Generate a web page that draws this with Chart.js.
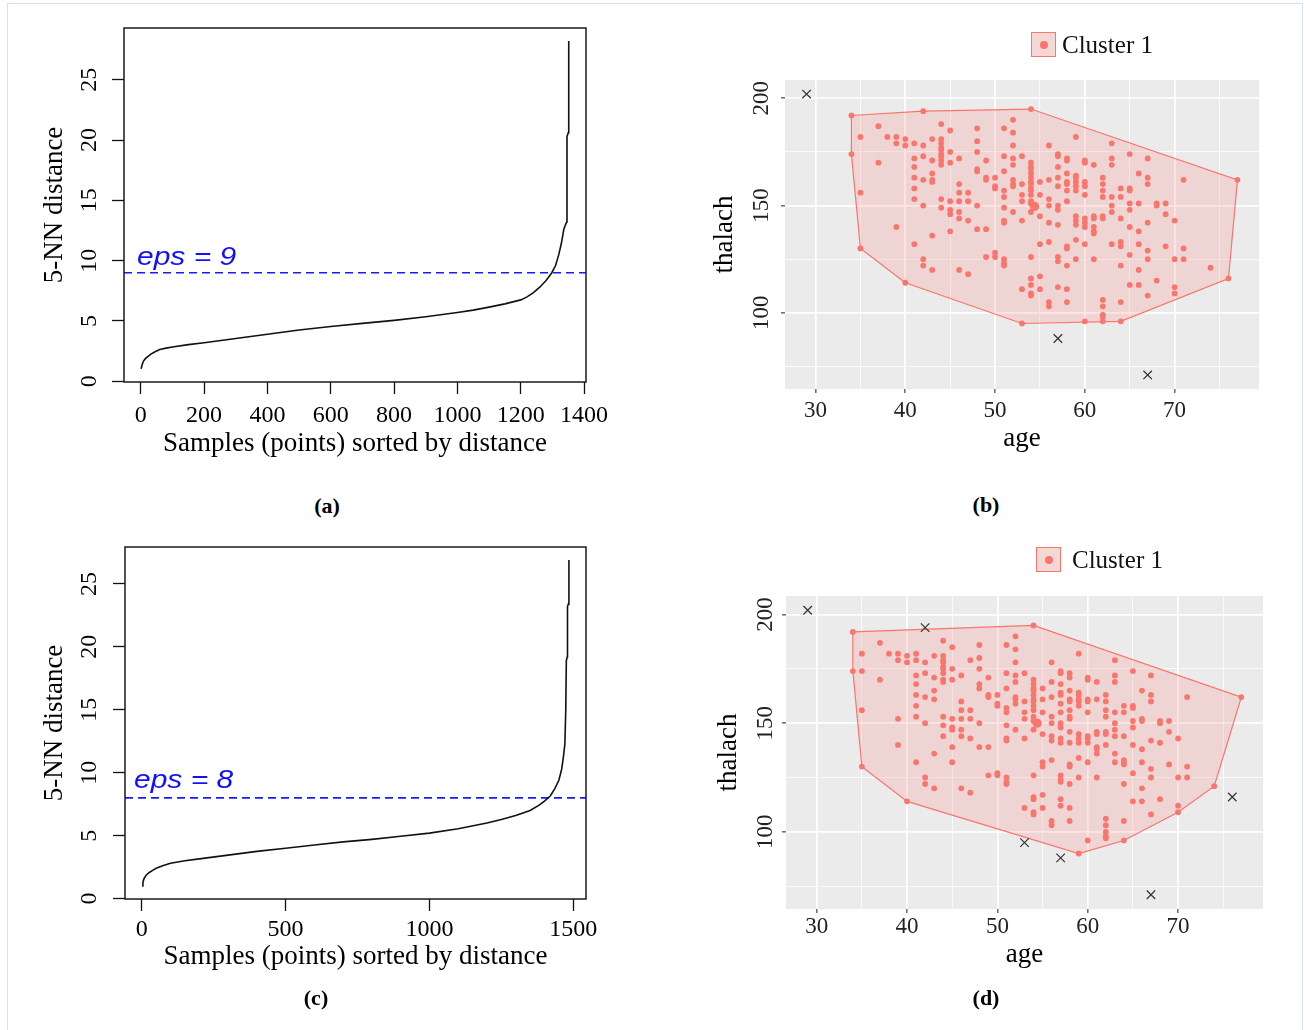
<!DOCTYPE html>
<html>
<head>
<meta charset="utf-8">
<script src="https://cdn.jsdelivr.net/npm/chart.js@4.4.1/dist/chart.umd.min.js"></script>
<style>
html,body{margin:0;padding:0;background:#fff;}
#fig{position:relative;width:1304px;height:1030px;overflow:hidden;background:#fff;}
.frame{position:absolute;left:7px;top:3px;width:1296px;height:1100px;border:1px solid #dbe0e8;box-sizing:border-box;}
canvas{position:absolute;}
.cap{position:absolute;font:bold 22px "Liberation Serif";line-height:1;transform:translate(-50%,-50%);color:#000;white-space:nowrap;}
.leg{position:absolute;display:flex;align-items:center;height:25px;font:25px "Liberation Serif";line-height:25px;color:#111;white-space:nowrap;}
.key{width:25px;height:25px;box-sizing:border-box;border:1px solid #F8766D;background:#F3D8D6;position:relative;flex:none;}
.key::after{content:"";position:absolute;left:50%;top:50%;width:8px;height:8px;margin:-4px 0 0 -4px;border-radius:50%;background:#F8766D;}
</style>
</head>
<body>
<div id="fig">
  <div class="frame"></div>
  <canvas id="ca" width="650" height="470" style="left:0;top:0"></canvas>
  <canvas id="cb" width="654" height="470" style="left:650px;top:0"></canvas>
  <canvas id="cc" width="650" height="470" style="left:0;top:520px"></canvas>
  <canvas id="cd" width="654" height="470" style="left:650px;top:520px"></canvas>
  <div class="leg" style="left:1031px;top:32px"><div class="key"></div><span style="margin-left:6px">Cluster 1</span></div>
  <div class="leg" style="left:1036px;top:547px"><div class="key"></div><span style="margin-left:11px">Cluster 1</span></div>
  <div class="cap" style="left:327px;top:506px">(a)</div>
  <div class="cap" style="left:986px;top:505px">(b)</div>
  <div class="cap" style="left:316px;top:998px">(c)</div>
  <div class="cap" style="left:986px;top:998px">(d)</div>
</div>
<script>
// ================= DATA =================
// (a) sorted 5-NN distances, eps = 9
const knnXA = [1, 4, 8, 15, 23, 32, 45, 60, 80, 100, 150, 200, 300, 400, 500, 600, 700, 800, 900, 1000, 1050, 1100, 1150, 1200, 1220, 1240, 1260, 1280, 1298, 1310, 1320, 1328, 1336, 1340, 1345, 1346, 1350, 1351, 1352];
const knnYA = [1.03, 1.35, 1.66, 1.9, 2.07, 2.25, 2.45, 2.63, 2.75, 2.85, 3.04, 3.2, 3.55, 3.9, 4.25, 4.55, 4.8, 5.05, 5.35, 5.7, 5.9, 6.15, 6.42, 6.75, 7.0, 7.35, 7.8, 8.35, 9.0, 9.6, 10.5, 11.4, 12.6, 12.9, 13.2, 20.3, 20.6, 26.5, 28.2];
const epsA = 9;
const xTicksA = [0, 200, 400, 600, 800, 1000, 1200, 1400];

// (c) sorted 5-NN distances, eps = 8
const knnXC = [1, 4, 8, 15, 25, 35, 50, 75, 100, 150, 200, 300, 400, 500, 600, 700, 800, 900, 1000, 1100, 1200, 1250, 1300, 1350, 1380, 1400, 1420, 1435, 1450, 1460, 1466, 1471, 1474, 1476, 1479, 1480, 1483, 1485];
const knnYC = [1.0, 1.3, 1.6, 1.85, 2.05, 2.2, 2.4, 2.62, 2.8, 3.0, 3.15, 3.45, 3.75, 4.0, 4.25, 4.5, 4.7, 4.95, 5.2, 5.55, 6.0, 6.28, 6.6, 7.0, 7.4, 7.75, 8.15, 8.7, 9.4, 10.3, 11.3, 12.3, 15, 18.9, 19.2, 23.2, 23.4, 26.9];
const epsC = 8;
const xTicksC = [0, 500, 1000, 1500];
const yTicksKnn = [0, 5, 10, 15, 20, 25];

// (b) cluster 1 members: [age, [thalach values]]
const clusterB = [
  [34, [192, 174]], [35, [182, 156, 130]], [37, [187, 170]], [38, [182]],
  [39, [182, 179, 140]], [40, [181, 178, 114]], [41, [179, 172, 168, 163, 158, 153, 132]],
  [42, [194, 178, 173, 162, 150, 125, 122]], [43, [181, 171, 165, 162, 161, 136, 120]],
  [44, [188, 181, 179, 177, 176, 174, 173, 171, 169, 153, 149]], [45, [185, 175, 170, 152, 148, 146, 138]],
  [46, [172, 160, 156, 152, 147, 144, 120]], [47, [156, 152, 143, 118]], [48, [186, 180, 175, 167, 166, 150, 139]],
  [49, [171, 163, 162, 139, 126]], [50, [163, 159, 158, 128, 126]],
  [51, [186, 173, 166, 157, 154, 149, 143, 142, 125, 123, 122]], [52, [190, 184, 178, 172, 169, 162, 160, 159, 147]],
  [53, [173, 160, 155, 152, 143, 111, 95]],
  [54, [195, 170, 168, 167, 165, 163, 161, 160, 158, 157, 155, 152, 151, 147, 126, 116, 113, 109, 108]],
  [55, [161, 155, 145, 132, 117, 111]], [56, [178, 162, 153, 150, 142, 133, 105, 103]],
  [57, [174, 173, 168, 163, 159, 150, 148, 141, 126, 124, 112]],
  [58, [172, 171, 165, 161, 160, 157, 152, 131, 130, 122, 111, 105]],
  [59, [182, 164, 163, 161, 159, 157, 145, 143, 141, 134, 125]],
  [60, [171, 170, 161, 159, 155, 144, 142, 140, 132, 96]], [61, [169, 145, 144, 140, 138, 137, 125]],
  [62, [163, 160, 157, 154, 145, 144, 106, 103, 99, 98, 96]], [63, [179, 172, 169, 154, 150, 147, 132]],
  [64, [158, 154, 144, 133, 131, 122, 105, 96]], [65, [174, 158, 157, 151, 148, 140, 127, 113]],
  [66, [165, 151, 138, 132, 120, 113]], [67, [172, 163, 160, 142, 129, 125, 108]],
  [68, [151, 150, 115]], [69, [151, 146, 131]], [70, [143, 125, 112, 109]], [71, [162, 130, 125]],
  [74, [121]], [76, [116]], [77, [162]]
];
const centroidB = [54.4, 149.6];
const noiseB = [[29, 202], [57, 88], [67, 71]];

// (d) cluster 1 members: [age, [thalach values]]
const clusterD = [
  [34, [192, 174]], [35, [182, 174, 156, 130]], [37, [187, 170]], [38, [182]],
  [39, [182, 179, 152, 140]], [40, [181, 178, 114]], [41, [182, 179, 172, 168, 163, 158, 153, 132]],
  [42, [178, 173, 162, 150, 125, 122]], [43, [181, 171, 165, 161, 136, 120]],
  [44, [188, 181, 179, 178, 176, 175, 173, 170, 169, 153, 149, 144]], [45, [185, 175, 170, 152, 148, 147, 139, 132]],
  [46, [172, 160, 156, 152, 147, 144, 120]], [47, [179, 156, 152, 143, 118]], [48, [186, 180, 175, 168, 166, 150, 139]],
  [49, [171, 163, 162, 139, 126]], [50, [163, 159, 158, 127, 126]],
  [51, [186, 173, 166, 157, 155, 149, 143, 142, 125, 123, 122]], [52, [190, 184, 178, 172, 169, 162, 161, 159, 147]],
  [53, [173, 160, 155, 152, 143, 111]],
  [54, [195, 170, 168, 166, 165, 163, 161, 160, 158, 156, 153, 151, 147, 126, 116, 115, 109, 108]],
  [55, [166, 161, 155, 145, 132, 130, 117, 111]], [56, [178, 169, 162, 153, 150, 144, 142, 133, 105, 103]],
  [57, [174, 173, 168, 164, 163, 159, 155, 150, 148, 143, 141, 126, 124, 123, 115, 112]],
  [58, [173, 171, 165, 161, 160, 156, 153, 152, 146, 141, 131, 130, 122, 111, 105]],
  [59, [182, 164, 163, 161, 160, 158, 145, 143, 141, 134, 125, 90]],
  [60, [171, 170, 161, 160, 155, 144, 143, 141, 132, 96]], [61, [169, 161, 146, 145, 139, 138, 136, 125]],
  [62, [163, 160, 156, 153, 146, 145, 140, 106, 103, 100, 98, 97]], [63, [179, 172, 169, 155, 150, 147, 144, 136, 132]],
  [64, [158, 155, 144, 133, 132, 131, 122, 105, 96]], [65, [174, 158, 157, 151, 148, 140, 127, 114]],
  [66, [165, 152, 151, 138, 132, 120, 114]], [67, [172, 163, 160, 142, 129, 125, 108]],
  [68, [151, 150, 141, 115]], [69, [151, 146, 131]], [70, [143, 125, 112, 109]], [71, [162, 130, 125]],
  [74, [121]], [77, [162]]
];
const centroidD = [54.4, 150];
const noiseD = [[29, 202], [42, 194], [53, 95], [57, 88], [67, 71], [76, 116]];
const ageTicks = [30, 35, 40, 45, 50, 55, 60, 65, 70, 75];
const thalTicks = [75, 100, 125, 150, 175, 200];
const xMajorAge = 10, yMajorThal = 50;

// ================= HELPERS =================
const SERIF = '"Liberation Serif", "Times New Roman", serif';
const RED = '#F8766D';

function flatten(cols) { return cols.flatMap(([a, ts]) => ts.map(t => ({ x: a, y: t }))); }
function hull(pts) {
  const p = pts.map(q => [q.x, q.y]).sort((a, b) => a[0] - b[0] || a[1] - b[1]);
  const cr = (o, a, b) => (a[0] - o[0]) * (b[1] - o[1]) - (a[1] - o[1]) * (b[0] - o[0]);
  const lo = [], up = [];
  for (const q of p) { while (lo.length >= 2 && cr(lo[lo.length - 2], lo[lo.length - 1], q) <= 0) lo.pop(); lo.push(q); }
  for (let i = p.length - 1; i >= 0; i--) { const q = p[i]; while (up.length >= 2 && cr(up[up.length - 2], up[up.length - 1], q) <= 0) up.pop(); up.push(q); }
  lo.pop(); up.pop();
  const h = lo.concat(up); h.push(h[0]);
  return h.map(([x, y]) => ({ x, y }));
}
function expandRange(vals, f) { const mn = Math.min(...vals), mx = Math.max(...vals), r = mx - mn; return [mn - f * r, mx + f * r]; }
const fixTicks = arr => s => { s.ticks = arr.map(v => ({ value: v })); };

// rotated y tick labels (R / ggplot style)
const rotYLabels = {
  id: 'rotYLabels',
  afterDraw(chart, args, o) {
    if (!o || o.x === undefined) return;
    const s = chart.scales.y, ctx = chart.ctx;
    ctx.save();
    ctx.font = o.font; ctx.fillStyle = o.color; ctx.textAlign = 'center'; ctx.textBaseline = 'middle';
    s.ticks.forEach(t => {
      if (o.every && Math.abs(t.value % o.every) > 1e-9) return;
      const y = s.getPixelForValue(t.value);
      ctx.save(); ctx.translate(o.x, y); ctx.rotate(-Math.PI / 2); ctx.fillText(String(t.value), 0, 0); ctx.restore();
    });
    ctx.restore();
  }
};
// panel background / box / eps label
const panelDeco = {
  id: 'panelDeco',
  beforeDraw(chart, args, o) {
    if (!o.bg) return;
    const { left, top, width, height } = chart.chartArea, ctx = chart.ctx;
    ctx.save(); ctx.fillStyle = o.bg; ctx.fillRect(left, top, width, height); ctx.restore();
  },
  afterDraw(chart, args, o) {
    const ctx = chart.ctx, a = chart.chartArea;
    if (o.box) {
      ctx.save(); ctx.strokeStyle = '#1a1a1a'; ctx.lineWidth = 1.5;
      ctx.strokeRect(a.left, a.top, a.right - a.left, a.bottom - a.top); ctx.restore();
    }
    if (o.epsText) {
      const y = chart.scales.y.getPixelForValue(o.epsValue) + o.dy;
      ctx.save(); ctx.fillStyle = '#1010ff'; ctx.font = 'italic 25px "Liberation Sans", Arial, sans-serif';
      ctx.textBaseline = 'alphabetic'; ctx.textAlign = 'left';
      ctx.translate(a.left + o.dx, y); ctx.scale(1.2, 1); ctx.fillText(o.epsText, 0, 0); ctx.restore();
    }
  }
};

// ================= R-style k-NN panel =================
function knnChart(id, xs, ys, eps, xTicks, L) {
  const [xMin, xMax] = expandRange(xs, 0.04);
  const [yMin, yMax] = expandRange(ys, 0.04);
  const curve = xs.map((x, i) => ({ x, y: ys[i] }));
  return new Chart(document.getElementById(id), {
    type: 'scatter',
    data: { datasets: [
      { data: curve, showLine: true, borderColor: '#111', borderWidth: 1.6, pointRadius: 0, tension: 0, fill: false },
      { data: [{ x: xMin, y: eps }, { x: xMax, y: eps }], showLine: true, borderColor: '#1a1aff', borderWidth: 1.6, borderDash: [8, 5], pointRadius: 0, fill: false }
    ] },
    options: {
      responsive: false, animation: false, devicePixelRatio: 1, events: [],
      layout: { padding: L.pad },
      plugins: { legend: { display: false }, tooltip: { enabled: false },
        rotYLabels: { x: L.yLabX, font: '24px ' + SERIF, color: '#000' },
        panelDeco: { box: true, epsText: 'eps = ' + eps, epsValue: eps, dx: L.epsDx, dy: L.epsDy } },
      scales: {
        x: { type: 'linear', min: xMin, max: xMax,
          afterBuildTicks: fixTicks(xTicks),
          afterFit: s => { s.height = L.xH; },
          border: { display: false },
          grid: { drawOnChartArea: false, drawTicks: true, tickLength: 12, tickColor: '#111', tickWidth: 1.3 },
          ticks: { autoSkip: false, maxRotation: 0, padding: L.xTickPad,
            color: '#000', font: { family: SERIF, size: 24 }, callback: v => String(v) },
          title: { display: true, text: 'Samples (points) sorted by distance', color: '#000',
            font: { family: SERIF, size: 27 }, padding: { top: 0, bottom: L.xTitlePad } } },
        y: { type: 'linear', min: yMin, max: yMax,
          afterBuildTicks: fixTicks(yTicksKnn),
          afterFit: s => { s.width = L.yW; },
          border: { display: false },
          grid: { drawOnChartArea: false, drawTicks: true, tickLength: 12, tickColor: '#111', tickWidth: 1.3 },
          ticks: { display: false },
          title: { display: true, text: '5-NN distance', color: '#000',
            font: { family: SERIF, size: 27 }, padding: { top: L.yTitlePad, bottom: 0 } } }
      }
    },
    plugins: [rotYLabels, panelDeco]
  });
}

// ================= ggplot-style cluster panel =================
function ggGrid(major) {
  const isMajor = c => c.tick && Math.abs(c.tick.value % major) < 1e-9;
  return { color: '#ffffff', lineWidth: c => isMajor(c) ? 1.7 : 0.8,
    drawTicks: true, tickLength: 4, tickWidth: 1.1,
    tickColor: c => isMajor(c) ? '#333333' : 'rgba(0,0,0,0)' };
}
function clusterChart(id, cols, centroid, noise, L) {
  const pts = flatten(cols);
  const noisePts = noise.map(([x, y]) => ({ x, y }));
  const allX = pts.map(p => p.x).concat(noisePts.map(p => p.x));
  const allY = pts.map(p => p.y).concat(noisePts.map(p => p.y));
  const [xMin, xMax] = expandRange(allX, 0.05);
  const [yMin, yMax] = expandRange(allY, 0.05);
  return new Chart(document.getElementById(id), {
    type: 'scatter',
    data: { datasets: [
      { label: 'center', data: [{ x: centroid[0], y: centroid[1] }], pointRadius: 4.6, backgroundColor: RED, borderWidth: 0, order: 0 },
      { label: 'Cluster 1', data: pts, pointRadius: 2.9, backgroundColor: RED, borderWidth: 0, order: 1 },
      { label: 'noise', data: noisePts, pointStyle: 'crossRot', pointRadius: 6, borderColor: '#333', borderWidth: 1.2, backgroundColor: 'rgba(0,0,0,0)', order: 2 },
      { label: 'hull', data: hull(pts), showLine: true, fill: 'shape', backgroundColor: 'rgba(248,118,109,0.2)', borderColor: RED, borderWidth: 1.2, pointRadius: 0, tension: 0, order: 3 }
    ] },
    options: {
      responsive: false, animation: false, devicePixelRatio: 1, events: [],
      layout: { padding: L.pad },
      plugins: { legend: { display: false }, tooltip: { enabled: false },
        rotYLabels: { x: L.yLabX, font: '23px ' + SERIF, color: '#222', every: yMajorThal },
        panelDeco: { bg: '#EBEBEB' } },
      scales: {
        x: { type: 'linear', min: xMin, max: xMax,
          afterBuildTicks: fixTicks(ageTicks),
          afterFit: s => { s.height = L.xH; },
          border: { display: false }, grid: ggGrid(xMajorAge),
          ticks: { autoSkip: false, maxRotation: 0, padding: L.xTickPad,
            color: '#222', font: { family: SERIF, size: 23 }, callback: v => (Math.abs(v % xMajorAge) < 1e-9 ? String(v) : '') },
          title: { display: true, text: 'age', color: '#000', font: { family: SERIF, size: 27 }, padding: { top: 0, bottom: L.xTitlePad } } },
        y: { type: 'linear', min: yMin, max: yMax,
          afterBuildTicks: fixTicks(thalTicks),
          afterFit: s => { s.width = L.yW; },
          border: { display: false }, grid: ggGrid(yMajorThal),
          ticks: { display: false },
          title: { display: true, text: 'thalach', color: '#000', font: { family: SERIF, size: 27 }, padding: { top: L.yTitlePad, bottom: 0 } } }
      }
    },
    plugins: [rotYLabels, panelDeco]
  });
}

knnChart('ca', knnXA, knnYA, epsA, xTicksA,
  { pad: { left: 0, top: 28, right: 64, bottom: 8 }, yW: 124, xH: 80, xTickPad: 7, xTitlePad: 2, yTitlePad: 39, yLabX: 90, epsDx: 13, epsDy: -7.5 });
knnChart('cc', knnXC, knnYC, epsC, xTicksC,
  { pad: { left: 0, top: 27, right: 64, bottom: 15 }, yW: 125, xH: 76, xTickPad: 4, xTitlePad: 2, yTitlePad: 39, yLabX: 90, epsDx: 9, epsDy: -9.5 });
clusterChart('cb', clusterB, centroidB, noiseB,
  { pad: { left: 0, top: 80, right: 45, bottom: 11 }, yW: 135, xH: 70, xTickPad: 4, xTitlePad: 3.6, yTitlePad: 59, yLabX: 112 });
clusterChart('cd', clusterD, centroidD, noiseD,
  { pad: { left: 0, top: 76, right: 41, bottom: 17 }, yW: 136, xH: 64, xTickPad: 0, xTitlePad: 2, yTitlePad: 63, yLabX: 116 });
</script>
</body>
</html>
